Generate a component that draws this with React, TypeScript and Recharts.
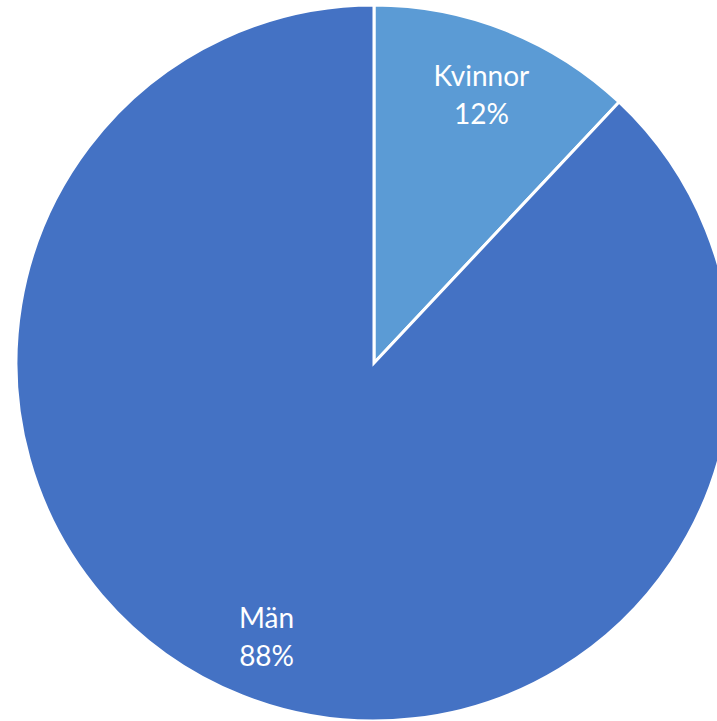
import { Cell, Pie, PieChart } from "recharts";

const categories = ["Kvinnor", "Män"];
const shares = [12, 88];
const colors = ["#5B9BD5", "#4472C4"];

const data = categories.map((name, i) => ({ name, value: shares[i] }));

const RAD = Math.PI / 180;

function renderLabel(props: any) {
  const { cx, cy, midAngle, outerRadius, name, value } = props;
  const r = outerRadius * 0.815;
  const x = cx + r * Math.cos(-midAngle * RAD);
  const y = cy + r * Math.sin(-midAngle * RAD);
  return (
    <text
      x={x}
      y={y}
      fill="#ffffff"
      textAnchor="middle"
      fontFamily="Lato, 'Open Sans', sans-serif"
      fontSize={28}
    >
      <tspan x={x} dy={-6}>{name}</tspan>
      <tspan x={x} dy={38}>{`${value}%`}</tspan>
    </text>
  );
}

export default function App() {
  return (
    <div style={{ position: "absolute", left: 0, top: 0, width: 717, height: 721, background: "#fff", overflow: "hidden" }}>
      <PieChart width={717} height={721} margin={{ top: 0, right: 0, bottom: 0, left: 0 }}>
        <Pie
          data={data}
          dataKey="value"
          nameKey="name"
          cx={374}
          cy={363}
          outerRadius={358}
          startAngle={90}
          endAngle={-270}
          stroke="#ffffff"
          strokeWidth={3}
          label={renderLabel}
          labelLine={false}
          isAnimationActive={false}
        >
          {data.map((d, i) => (
            <Cell key={d.name} fill={colors[i]} />
          ))}
        </Pie>
      </PieChart>
    </div>
  );
}
